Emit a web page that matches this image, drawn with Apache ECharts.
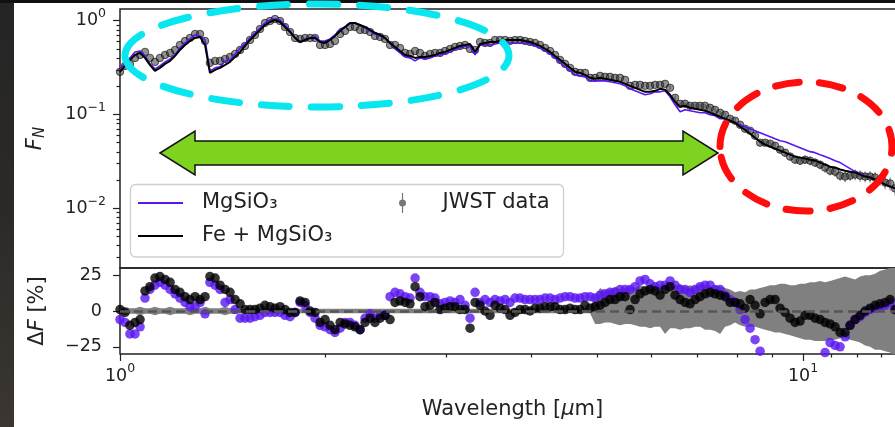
<!DOCTYPE html>
<html><head><meta charset="utf-8">
<script src="https://cdn.jsdelivr.net/npm/echarts@6/dist/echarts.min.js"></script>
<style>
html,body{margin:0;padding:0;width:895px;height:427px;overflow:hidden;background:#2a2a2a;}
#bg{position:absolute;left:0;top:0;width:895px;height:427px;background:linear-gradient(to bottom,#252525 0%,#2c2a28 50%,#3b3631 100%);}
#paper{position:absolute;left:14px;top:3px;width:881px;height:424px;background:#fff;}
#topbar{position:absolute;left:0;top:0;width:895px;height:3px;background:#111;}
#chart{position:absolute;left:0;top:0;width:895px;height:427px;}
</style></head><body>
<div id="bg"></div><div id="paper"></div><div id="topbar"></div><div id="chart"></div>
<script>
// ---- data ----
const wl = [1.000,1.017,1.034,1.052,1.070,1.088,1.106,1.125,1.144,1.164,
1.184,1.204,1.224,1.245,1.266,1.288,1.310,1.332,1.354,1.378,
1.401,1.425,1.449,1.474,1.499,1.524,1.550,1.576,1.603,1.630,
1.658,1.686,1.715,1.744,1.774,1.804,1.835,1.866,1.898,1.930,
1.963,1.996,2.030,2.064,2.100,2.135,2.171,2.208,2.246,2.284,
2.323,2.362,2.403,2.443,2.485,2.527,2.570,2.614,2.658,2.704,
2.749,2.796,2.844,2.892,2.941,2.991,3.042,3.094,3.146,3.200,
3.254,3.310,3.366,3.423,3.481,3.540,3.601,3.662,3.724,3.787,
3.852,3.917,3.984,4.052,4.120,4.191,4.262,4.334,4.408,4.483,
4.559,4.637,4.715,4.795,4.877,4.960,5.044,5.130,5.217,5.306,
5.396,5.488,5.581,5.676,5.772,5.871,5.971,6.072,6.175,6.280,
6.387,6.495,6.606,6.718,6.832,6.949,7.067,7.187,7.309,7.433,
7.560,7.688,7.819,7.952,8.087,8.224,8.364,8.506,8.651,8.798,
8.948,9.100,9.254,9.412,9.572,9.734,9.900,10.068,10.239,10.413,
10.590,10.770,10.953,11.140,11.329,11.522,11.718,11.917,12.119,12.325,
12.535,12.748,12.965,13.185,13.409,13.637];

const fluxJWST = [0.2848,0.3299,0.3464,0.4012,0.4318,0.4647,0.4012,0.3638,0.4012,0.4318,
0.4535,0.4880,0.5516,0.6083,0.6547,0.7221,0.7221,0.6083,0.3550,0.3728,
0.3728,0.3915,0.4112,0.4425,0.4880,0.5383,0.6234,0.7046,0.8161,0.9453,
0.9927,1.042,0.9927,0.8571,0.7583,0.6547,0.6389,0.6547,0.6547,0.6547,
0.5516,0.5516,0.5653,0.6083,0.7221,0.7771,0.8571,0.8571,0.7964,0.7964,
0.7583,0.6876,0.6709,0.6389,0.5516,0.5516,0.5125,0.4535,0.4425,0.4762,
0.4535,0.4214,0.4425,0.4535,0.4535,0.4762,0.5001,0.5252,0.5383,0.5516,
0.5001,0.4880,0.5936,0.5793,0.5793,0.6234,0.6234,0.6234,0.6083,0.6234,
0.6234,0.6083,0.5936,0.5793,0.5516,0.5125,0.4762,0.4318,0.3821,0.3464,
0.3141,0.2848,0.2779,0.2779,0.2459,0.2459,0.2583,0.2520,0.2520,0.2459,
0.2459,0.2342,0.2022,0.2072,0.2072,0.2022,0.2022,0.2072,0.2072,0.2123,
0.1925,0.1507,0.1301,0.1301,0.1239,0.1239,0.1239,0.1239,0.1179,0.1123,
0.1043,0.0994,0.0901,0.0858,0.0778,0.0705,0.0672,0.0594,0.0501,0.0501,
0.0489,0.0465,0.0422,0.0392,0.0356,0.0330,0.0322,0.0330,0.0322,0.0307,
0.0292,0.0272,0.0252,0.0246,0.0223,0.0218,0.0223,0.0229,0.0223,0.0218,
0.0218,0.0213,0.0203,0.0188,0.0184,0.0163];

// relative 1-sigma error of the JWST points in the top panel (%), from index errTopStart on
const errTopStart = 110;
const errTop = [5,6,5,6,5,6,6,5,6,6,5,6,6,7,6,7,
7,8,7,8,8,9,8,9,10,9,10,10,11,10,11,12,11,12,12,13,12,13,14,13,14,15,14,15,16,16];

const fluxFeMg = [0.2848,0.3299,0.3821,0.4318,0.4535,0.4012,0.3381,0.2919,0.3141,0.3464,
0.3728,0.4214,0.4880,0.5516,0.6083,0.6547,0.6709,0.5516,0.2779,0.2991,
0.3141,0.3381,0.3638,0.4112,0.4647,0.5383,0.6234,0.7046,0.7964,0.9001,
0.9687,1.017,0.9687,0.8571,0.7583,0.6547,0.5936,0.6234,0.6547,0.6547,
0.5936,0.5793,0.6234,0.6876,0.7771,0.8571,0.9453,0.9453,0.9001,0.8571,
0.7964,0.7400,0.7046,0.6547,0.5793,0.5252,0.4762,0.4318,0.4214,0.4012,
0.4112,0.4112,0.4214,0.4318,0.4535,0.4647,0.4880,0.5125,0.5383,0.5516,
0.5653,0.4647,0.5653,0.5793,0.5936,0.5936,0.6083,0.6234,0.6234,0.6234,
0.6234,0.6083,0.5936,0.5653,0.5383,0.5001,0.4647,0.4214,0.3821,0.3464,
0.3141,0.2848,0.2779,0.2647,0.2459,0.2400,0.2459,0.2400,0.2342,0.2285,
0.2230,0.2123,0.2022,0.1925,0.1833,0.1745,0.1745,0.1789,0.1878,0.1833,
0.1622,0.1366,0.1209,0.1239,0.1179,0.1151,0.1123,0.1096,0.1043,0.0994,
0.0946,0.0901,0.0858,0.0817,0.0741,0.0688,0.0624,0.0566,0.0513,0.0477,
0.0454,0.0432,0.0412,0.0392,0.0373,0.0356,0.0347,0.0339,0.0330,0.0322,
0.0307,0.0292,0.0278,0.0272,0.0259,0.0252,0.0246,0.0240,0.0229,0.0218,
0.0213,0.0203,0.0193,0.0179,0.0171,0.0163];

const fluxMg = [0.3065,0.3550,0.4012,0.4647,0.4762,0.4214,0.3464,0.3065,0.3299,0.3638,
0.3915,0.4318,0.5125,0.5793,0.6389,0.7046,0.6876,0.6234,0.2919,0.3141,
0.3219,0.3728,0.3821,0.4425,0.5125,0.5653,0.6547,0.7400,0.8363,0.9453,
1.017,1.042,1.017,0.9001,0.7771,0.6547,0.5936,0.6389,0.6547,0.6876,
0.6083,0.6083,0.6389,0.7046,0.8161,0.8571,0.9224,0.9453,0.9001,0.8363,
0.7771,0.7221,0.6876,0.6547,0.5793,0.5001,0.4535,0.4112,0.4012,0.3728,
0.4012,0.3915,0.4012,0.4214,0.4318,0.4425,0.4647,0.5001,0.5125,0.5383,
0.5252,0.4318,0.5516,0.5516,0.5516,0.5653,0.5793,0.5936,0.5793,0.5793,
0.5793,0.5793,0.5653,0.5383,0.5125,0.4762,0.4425,0.4012,0.3550,0.3219,
0.2919,0.2647,0.2583,0.2520,0.2285,0.2285,0.2285,0.2285,0.2230,0.2176,
0.2123,0.2022,0.1878,0.1789,0.1703,0.1622,0.1662,0.1745,0.1745,0.1789,
0.1544,0.1269,0.1069,0.1123,0.1096,0.1069,0.1043,0.1043,0.0994,0.0970,
0.0901,0.0901,0.0858,0.0817,0.0778,0.0741,0.0705,0.0672,0.0640,0.0609,
0.0580,0.0552,0.0526,0.0513,0.0489,0.0465,0.0443,0.0422,0.0402,0.0392,
0.0373,0.0356,0.0339,0.0322,0.0307,0.0285,0.0265,0.0246,0.0235,0.0223,
0.0213,0.0203,0.0193,0.0179,0.0171,0.0163];

const resFeMg = [1,-1,-10,-8,-6,14,17,23,24,22,
20,15,13,10,8,10,8,10,24,23,
18,15,13,8,5,1,1,1,2,4,
3,2,3,1,-1,-1,7,6,0,-1,
-8,-6,-10,-13,-8,-9,-10,-11,-13,-8,
-5,-8,-5,-3,-6,6,7,6,5,17,
10,3,4,6,1,2,3,3,1,1,
-12,6,4,0,-3,4,2,1,-3,-1,
1,1,0,2,2,3,3,3,1,1,
2,1,1,4,2,3,4,6,8,8,
10,10,1,8,12,14,15,14,11,15,
17,11,8,6,5,8,10,12,13,12,
11,10,6,6,5,2,8,4,-2,6,
8,8,2,-1,-5,-8,-7,-3,-3,-5,
-6,-8,-9,-11,-15,-15,-10,-6,-3,0,
2,4,5,6,8,1];

const resMg = [-6,-8,-16,-16,-11,9,15,18,20,18,
15,12,9,6,3,3,6,-2,20,18,
15,6,8,1,-5,-5,-5,-4,-3,-1,
-1,-1,-1,-3,-4,-1,6,4,-1,-5,
-10,-11,-13,-15,-12,-8,-8,-10,-13,-5,
-2,-5,-3,-3,10,13,12,10,9,23,
13,10,10,9,5,6,7,6,8,4,
-5,13,6,8,6,8,7,8,6,9,
9,8,8,8,8,9,9,8,9,10,
10,9,9,10,10,9,11,12,13,13,
15,15,15,17,21,22,19,17,18,18,
21,18,15,15,13,15,17,18,18,15,
15,11,8,6,1,-6,-12,-20,-28,-34,
-41,-47,-52,-55,-57,-58,-57,-54,-50,-44,
-38,-29,-22,-24,-25,-18,-10,-6,-4,-1,
1,2,3,4,6,1];

const errHi = [2,3,2,2,3,2,2,3,2,2,
3,2,2,2,3,2,2,3,2,2,
2,3,2,2,1.5,1.5,1.5,1.5,1.5,1.5,
1.5,1.5,1.5,1.5,1.5,1.5,1.5,1.5,1.5,1.5,
1.5,1.5,1.5,1.5,1.5,1.5,1.5,1.5,1.5,1.5,
1.5,1.5,1.5,1.5,1.5,1.5,1.5,1.5,1.5,1.5,
1.5,1.5,1.5,1.5,1.5,1.5,1.5,1.5,1.5,1.5,
1.5,1.5,1.5,1.5,1.5,1.5,1.5,1.5,1.5,1.5,
1.5,1.5,1.5,1.5,1.5,1.5,1.5,1.5,1.5,1.5,
1.5,1.5,1.5,1.5,1.5,10,16,14,15,17,
15,16,17,16,18,17,16,18,17,18,
17,18,19,17,18,17,19,18,17,18,
17,16,15,13,14,13,15,15,16,17,
18,18,19,19,18,18,19,19,20,20,
21,20,21,22,23,24,23,22,24,25,
25,26,28,29,30,32];

const errLo = [-2,-3,-2,-2,-3,-2,-2,-3,-2,-2,
-3,-2,-2,-2,-3,-2,-2,-3,-2,-2,
-2,-3,-2,-2,-1.5,-1.5,-1.5,-1.5,-1.5,-1.5,
-1.5,-1.5,-1.5,-1.5,-1.5,-1.5,-1.5,-1.5,-1.5,-1.5,
-1.5,-1.5,-1.5,-1.5,-1.5,-1.5,-1.5,-1.5,-1.5,-1.5,
-1.5,-1.5,-1.5,-1.5,-1.5,-1.5,-1.5,-1.5,-1.5,-1.5,
-1.5,-1.5,-1.5,-1.5,-1.5,-1.5,-1.5,-1.5,-1.5,-1.5,
-1.5,-1.5,-1.5,-1.5,-1.5,-1.5,-1.5,-1.5,-1.5,-1.5,
-1.5,-1.5,-1.5,-1.5,-1.5,-1.5,-1.5,-1.5,-1.5,-1.5,
-1.5,-1.5,-1.5,-1.5,-1.5,-9,-9,-8,-8,-9,
-10,-9,-9,-10,-11,-11,-12,-11,-11,-16,
-12,-12,-13,-12,-12,-11,-11,-13,-13,-14,
-16,-11,-10,-8,-10,-11,-11,-11,-12,-13,
-14,-15,-15,-16,-17,-18,-19,-20,-20,-21,
-21,-21,-20,-20,-19,-19,-20,-21,-22,-24,
-25,-27,-27,-28,-29,-31];

const xMajor = [1, 10];
const xMinor = [2, 3, 4, 5, 6, 7, 8, 9, 11, 12, 13, 14];
const fMajor = [0.01, 0.1, 1];
const fMinor = [0.003,0.004,0.005,0.006,0.007,0.008,0.009,
                0.02,0.03,0.04,0.05,0.06,0.07,0.08,0.09,
                0.2,0.3,0.4,0.5,0.6,0.7,0.8,0.9];
const rTicks = [-25, 0, 25];
const X_MIN = 1, X_MAX = 14.1;
const F_MIN = 0.00231, F_MAX = 1.333;
const R_MIN = -30, R_MAX = 30;

// ---- styling ----
const FONT = 'DejaVu Sans';
const INK = '#222';
const PURPLE = '#5a16f2';
const pair = arr => wl.map((x, i) => [x, arr[i]]);

function pow10Label(v) {
  const e = Math.round(Math.log10(v));
  return '{b|10}{s|' + (e < 0 ? '\u2212' + (-e) : String(e)) + '}';
}
const powRich = {
  b: { fontSize: 17.5, fontFamily: FONT, color: INK },
  s: { fontSize: 12.5, fontFamily: FONT, color: INK, padding: [0, 0, 14, 0] }
};
const tickStyle = { color: INK, width: 1.2 };
const ERR_ICON = 'path://M3.4,0 L4.6,0 L4.6,20 L3.4,20 Z M0.5,10 A3.5,3.5 0 1 1 7.5,10 A3.5,3.5 0 1 1 0.5,10 Z';

const errBars = [];
for (let j = 0; j < errTop.length; j++) {
  const i = errTopStart + j;
  errBars.push([wl[i], fluxJWST[i] * (1 - errTop[j] / 100), fluxJWST[i] * (1 + errTop[j] / 100)]);
}

const chart = echarts.init(document.getElementById('chart'), null, { renderer: 'canvas' });
const option = {
  animation: false,
  backgroundColor: 'transparent',
  textStyle: { fontFamily: FONT },
  grid: [
    { left: 120, top: 9, width: 785, height: 259, show: true, borderColor: INK, borderWidth: 1.5, backgroundColor: 'transparent', outerBoundsMode: 'none' },
    { left: 120, top: 268, width: 785, height: 86, show: true, borderColor: INK, borderWidth: 1.5, backgroundColor: 'transparent', outerBoundsMode: 'none' }
  ],
  xAxis: [
    { gridIndex: 0, type: 'log', logBase: 10, min: X_MIN, max: X_MAX, show: false, splitLine: { show: false } },
    { gridIndex: 1, type: 'log', logBase: 10, min: X_MIN, max: X_MAX, position: 'bottom',
      axisLine: { show: false, onZero: false },
      axisTick: { show: true, length: 7, lineStyle: tickStyle, customValues: xMajor },
      axisLabel: { show: true, customValues: xMajor, formatter: pow10Label, rich: powRich,
                   margin: 22, verticalAlign: 'middle' },
      splitLine: { show: false },
      name: 'Wavelength [{i|\u03bc}m]', nameLocation: 'middle', nameGap: 45,
      nameTextStyle: { fontFamily: FONT, fontSize: 21, color: INK,
        rich: { i: { fontFamily: FONT, fontSize: 21, fontStyle: 'italic', color: INK } } } },
    { gridIndex: 1, type: 'log', logBase: 10, min: X_MIN, max: X_MAX, position: 'bottom',
      axisLine: { show: false, onZero: false },
      axisTick: { show: true, length: 3.5, lineStyle: tickStyle, customValues: xMinor },
      axisLabel: { show: false }, splitLine: { show: false } }
  ],
  yAxis: [
    { gridIndex: 0, type: 'log', logBase: 10, min: F_MIN, max: F_MAX, position: 'left',
      axisLine: { show: false, onZero: false },
      axisTick: { show: true, length: 7, lineStyle: tickStyle, customValues: fMajor },
      axisLabel: { show: true, customValues: fMajor, formatter: pow10Label, rich: powRich, margin: 14 },
      splitLine: { show: false },
      name: '{i|F}{sub|N}', nameLocation: 'middle', nameGap: 72,
      nameTextStyle: { fontFamily: FONT, fontSize: 21, color: INK,
        rich: { i: { fontFamily: FONT, fontSize: 21, fontStyle: 'italic', color: INK },
                sub: { fontFamily: FONT, fontSize: 15, fontStyle: 'italic', color: INK, padding: [10, 0, 0, 0] } } } },
    { gridIndex: 0, type: 'log', logBase: 10, min: F_MIN, max: F_MAX, position: 'left',
      axisLine: { show: false, onZero: false },
      axisTick: { show: true, length: 3.5, lineStyle: tickStyle, customValues: fMinor },
      axisLabel: { show: false }, splitLine: { show: false } },
    { gridIndex: 1, type: 'value', min: R_MIN, max: R_MAX, position: 'left',
      axisLine: { show: false, onZero: false },
      axisTick: { show: true, length: 7, lineStyle: tickStyle, customValues: rTicks },
      axisLabel: { show: true, customValues: rTicks, margin: 18, fontFamily: FONT, fontSize: 17.5, color: INK,
        formatter: v => (v < 0 ? '\u2212' + Math.abs(v) : String(v)) },
      splitLine: { show: false },
      name: '\u0394{i|F} [%]', nameLocation: 'middle', nameGap: 72,
      nameTextStyle: { fontFamily: FONT, fontSize: 21, color: INK,
        rich: { i: { fontFamily: FONT, fontSize: 21, fontStyle: 'italic', color: INK } } } }
  ],
  legend: [
    { data: [{ name: 'MgSiO\u2083', icon: 'rect' }, { name: 'Fe + MgSiO\u2083', icon: 'rect' }],
      orient: 'vertical', left: 138, top: 190.5, padding: 0, itemWidth: 45, itemHeight: 2, itemGap: 8,
      selectedMode: false,
      textStyle: { fontFamily: FONT, fontSize: 21, color: INK, lineHeight: 25, padding: [0, 0, 0, 14] } },
    { data: [{ name: 'JWST data', icon: ERR_ICON, itemStyle: { color: '#555', borderWidth: 0 } }],
      left: 399, top: 190.5, padding: 0, itemWidth: 8, itemHeight: 20, selectedMode: false,
      textStyle: { fontFamily: FONT, fontSize: 21, color: INK, lineHeight: 25, padding: [0, 0, 0, 31] } }
  ],
  series: [
    { name: 'JWST err', type: 'custom', xAxisIndex: 0, yAxisIndex: 0, z: 1, silent: true, clip: true,
      data: errBars, encode: { x: 0, y: [1, 2] },
      renderItem: (params, api) => {
        const p1 = api.coord([api.value(0), api.value(1)]);
        const p2 = api.coord([api.value(0), api.value(2)]);
        return { type: 'line', shape: { x1: p1[0], y1: p1[1], x2: p2[0], y2: p2[1] },
                 style: { stroke: 'rgba(50,50,50,0.6)', lineWidth: 1.2 } };
      } },
    { name: 'JWST data', type: 'scatter', xAxisIndex: 0, yAxisIndex: 0, z: 2, silent: true,
      data: pair(fluxJWST), symbol: 'circle', symbolSize: 7.5,
      itemStyle: { color: 'rgba(45,45,45,0.65)', borderColor: 'rgba(0,0,0,0.75)', borderWidth: 1 } },
    { name: 'MgSiO\u2083', type: 'line', xAxisIndex: 0, yAxisIndex: 0, z: 3, silent: true,
      data: pair(fluxMg), symbol: 'none', showSymbol: false, color: PURPLE,
      lineStyle: { color: PURPLE, width: 1.6 } },
    { name: 'Fe + MgSiO\u2083', type: 'line', xAxisIndex: 0, yAxisIndex: 0, z: 4, silent: true,
      data: pair(fluxFeMg), symbol: 'none', showSymbol: false, color: '#000',
      lineStyle: { color: '#000', width: 2 } },
    // residual panel
    { name: 'errUp', type: 'line', xAxisIndex: 1, yAxisIndex: 2, z: 1, silent: true,
      data: pair(errHi), symbol: 'none', showSymbol: false,
      lineStyle: { width: 0, color: '#808080' }, areaStyle: { color: '#808080', opacity: 1, origin: 0 } },
    { name: 'errDown', type: 'line', xAxisIndex: 1, yAxisIndex: 2, z: 1, silent: true,
      data: pair(errLo), symbol: 'none', showSymbol: false,
      lineStyle: { width: 0, color: '#808080' }, areaStyle: { color: '#808080', opacity: 1, origin: 0 } },
    { name: 'zero', type: 'line', xAxisIndex: 1, yAxisIndex: 2, z: 2, silent: true, data: [],
      markLine: { silent: true, symbol: 'none', label: { show: false },
        lineStyle: { color: '#555', width: 2.5, type: [9, 5] }, data: [{ yAxis: 0 }] } },
    { name: 'resMg', type: 'scatter', xAxisIndex: 1, yAxisIndex: 2, z: 3, silent: true, clip: true,
      data: pair(resMg), symbol: 'circle', symbolSize: 9.5, itemStyle: { color: PURPLE } },
    { name: 'resFeMg', type: 'scatter', xAxisIndex: 1, yAxisIndex: 2, z: 4, silent: true, clip: true,
      data: pair(resFeMg), symbol: 'circle', symbolSize: 9.5, itemStyle: { color: '#000' } }
  ],
  graphic: [
    { type: 'rect', z: 3, silent: true, shape: { x: 130.5, y: 184.5, width: 433, height: 72.5, r: 5 },
      style: { fill: 'rgba(255,255,255,0.85)', stroke: '#cfcfcf', lineWidth: 1.3 } },
    { type: 'polygon', z: 50, silent: true,
      shape: { points: [[160,153],[195,131],[195,141],[683,141],[683,131],[718,153],[683,175],[683,165],[195,165],[195,175]] },
      style: { fill: '#7ed321', stroke: '#111', lineWidth: 1.5 } },
    { type: 'ellipse', z: 50, silent: true, shape: { cx: 317, cy: 55.5, rx: 192, ry: 51.5 },
      style: { fill: 'none', stroke: '#08e6ef', lineWidth: 7, lineDash: [28, 22], lineCap: 'round' } },
    { type: 'ellipse', z: 50, silent: true, shape: { cx: 806, cy: 146.5, rx: 86, ry: 64.5 },
      style: { fill: 'none', stroke: '#ff0d0d', lineWidth: 7, lineDash: [24, 20], lineCap: 'round' } }
  ]
};
chart.setOption(option);
</script>
</body></html>
